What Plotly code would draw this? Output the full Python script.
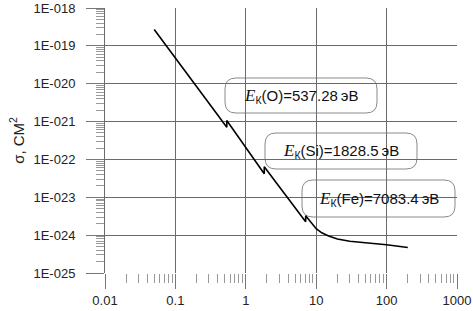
import plotly.graph_objects as go

# ---- data (energy in keV, cross-section in cm^2) ----
energy_kev = [0.05, 0.1, 0.2, 0.537, 0.537, 1.0, 1.8285, 1.8285, 4.0, 7.0834, 7.0834,
              10, 12, 15, 20, 30, 50, 100, 200]
sigma_cm2 = [2.7e-19, 4.7e-20, 8.3e-21, 7.1e-22, 1.07e-21, 2.0e-22, 4.2e-23, 6.4e-23, 9.3e-24,
             2.26e-24, 3.25e-24, 1.48e-24, 1.15e-24, 9.5e-25, 7.9e-25, 6.9e-25, 6.3e-25,
             5.6e-25, 4.7e-25]

x_tickvals = [0.01, 0.1, 1, 10, 100, 1000]
x_ticktext = ["0.01", "0.1", "1", "10", "100", "1000"]
y_tickvals = [1e-25, 1e-24, 1e-23, 1e-22, 1e-21, 1e-20, 1e-19, 1e-18]
y_ticktext = ["1E-025", "1E-024", "1E-023", "1E-022", "1E-021", "1E-020", "1E-019", "1E-018"]

labels_elem = ["O", "Si", "Fe"]
labels_val = ["537.28", "1828.5", "7083.4"]

# ---- layout geometry (pixels) ----
W, H = 473, 311
ML, MR, MT, MB = 105, 16, 8, 38
PW, PH = W - ML - MR, H - MT - MB

def px2paper(px, py):
    return (px - ML) / PW, (H - MB - py) / PH

def rounded_box(x0, y0, x1, y1, r=11):
    def p(x, y):
        a, b = px2paper(x, y)
        return f"{a:.5f},{b:.5f}"
    return (f"M {p(x0 + r, y0)} L {p(x1 - r, y0)} Q {p(x1, y0)} {p(x1, y0 + r)} "
            f"L {p(x1, y1 - r)} Q {p(x1, y1)} {p(x1 - r, y1)} "
            f"L {p(x0 + r, y1)} Q {p(x0, y1)} {p(x0, y1 - r)} "
            f"L {p(x0, y0 + r)} Q {p(x0, y0)} {p(x0 + r, y0)} Z")

boxes = [(225, 78, 377, 113), (265, 133, 417, 169), (302, 180, 455, 217)]

fig = go.Figure()
fig.add_trace(go.Scatter(x=energy_kev, y=sigma_cm2, mode="lines",
                         line=dict(color="black", width=1.6), showlegend=False))

shapes = []
annotations = []
for (x0, y0, x1, y1), el, val in zip(boxes, labels_elem, labels_val):
    shapes.append(dict(type="path", path=rounded_box(x0, y0, x1, y1), xref="paper", yref="paper",
                       line=dict(color="#8a8a8a", width=1), fillcolor="white", layer="between"))
    cx, cy = px2paper((x0 + x1) / 2, (y0 + y1) / 2)
    txt = (f"<span style=\"font-family:'Liberation Serif';font-size:17px\"><i>E</i></span>"
           f"<sub>К</sub>({el})={val}\u2009эВ")
    annotations.append(dict(x=cx, y=cy, xref="paper", yref="paper", text=txt, showarrow=False,
                            font=dict(family="Liberation Sans, Arial", size=15, color="#111"),
                            xanchor="center", yanchor="middle"))

fig.update_layout(
    width=W, height=H,
    margin=dict(l=ML, r=MR, t=MT, b=MB, pad=0, autoexpand=False),
    paper_bgcolor="white", plot_bgcolor="white",
    font=dict(family="Liberation Sans, Arial", size=13, color="#222"),
    shapes=shapes, annotations=annotations,
    xaxis=dict(type="log", range=[-2, 3], tickvals=x_tickvals, ticktext=x_ticktext,
               automargin=False,
               showgrid=True, gridcolor="#6a6a6a", gridwidth=1,
               ticks="outside", ticklen=15, tickcolor="#777", tickwidth=1,
               showline=True, linecolor="white", linewidth=1,
               minor=dict(ticks="outside", ticklen=9, tickcolor="#999", dtick="D1", showgrid=False),
               zeroline=False, tickfont=dict(size=13, color="#222")),
    yaxis=dict(type="log", range=[-25, -18], tickvals=y_tickvals, ticktext=y_ticktext,
               automargin=False,
               showgrid=True, gridcolor="#6a6a6a", gridwidth=1,
               ticks="outside", ticklen=18, tickcolor="#777", tickwidth=1,
               ticklabelstandoff=8,
               showline=True, linecolor="#6a6a6a", linewidth=1,
               minor=dict(ticks="outside", ticklen=8, tickcolor="#999", dtick="D1", showgrid=False),
               zeroline=False, tickfont=dict(size=13, color="#222"),
               title=dict(text="σ, СМ<sup>2</sup>", font=dict(size=15, color="#222"), standoff=5)),
)

fig.write_html("out.html", config={"displayModeBar": False},
               post_script="document.body.style.margin='0';document.body.style.overflow='hidden';")
